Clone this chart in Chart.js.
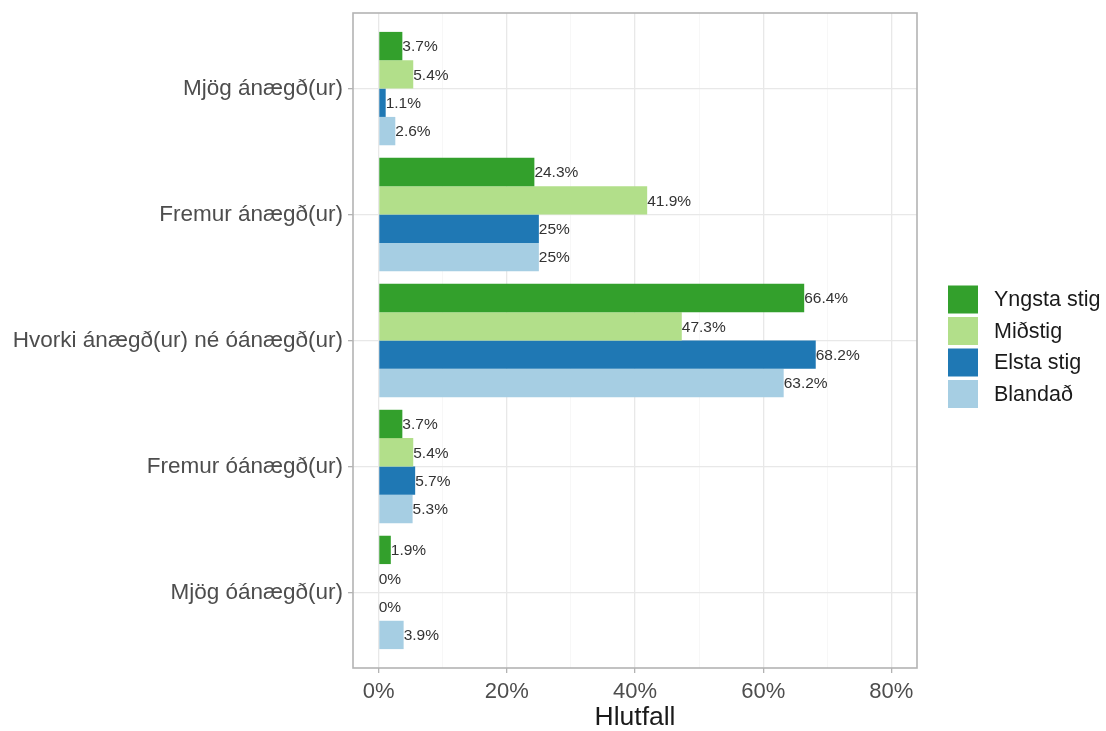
<!DOCTYPE html>
<html>
<head>
<meta charset="utf-8">
<script src="https://cdn.jsdelivr.net/npm/chart.js@4/dist/chart.umd.min.js"></script>
<style>
  html, body { margin: 0; padding: 0; background: #ffffff; }
  #wrap { width: 1106px; height: 731px; position: relative; }
</style>
</head>
<body>
<div id="wrap"><canvas id="barChart" width="1106" height="731"></canvas></div>
<script>
// Categories (top to bottom) and one array per group
const categories = [
    'Mjög ánægð(ur)',
    'Fremur ánægð(ur)',
    'Hvorki ánægð(ur) né óánægð(ur)',
    'Fremur óánægð(ur)',
    'Mjög óánægð(ur)'
];
const seriesNames = ['Yngsta stig', 'Miðstig', 'Elsta stig', 'Blandað'];
const yngsta = [3.7, 24.3, 66.4, 3.7, 1.9];
const midstig = [5.4, 41.9, 47.3, 5.4, 0];
const elsta = [1.1, 25, 68.2, 5.7, 0];
const blandad = [2.6, 25, 63.2, 5.3, 3.9];
const xTicks = [0, 10, 20, 30, 40, 50, 60, 70, 80];

const colors = [
    '#33a02c', // dark green
    '#b2df8a', // light green
    '#1f78b4', // dark blue
    '#a6cee3'  // light blue
];

const FONT = '"Liberation Sans", Arial, sans-serif';

// Turn a value array into {x, y} points on the category index
function toPoints(values) {
    return values.map((v, i) => ({ x: v, y: i }));
}

// Value labels at the end of each bar
const barLabels = {
    id: 'barLabels',
    afterDatasetsDraw(chart) {
        const ctx = chart.ctx;
        ctx.save();
        ctx.font = '15.5px ' + FONT;
        ctx.fillStyle = '#333333';
        ctx.textAlign = 'left';
        ctx.textBaseline = 'middle';
        chart.data.datasets.forEach((ds, di) => {
            const meta = chart.getDatasetMeta(di);
            meta.data.forEach((bar, i) => {
                ctx.fillText(ds.data[i].x + '%', bar.x, bar.y + 1);
            });
        });
        ctx.restore();
    }
};

// Grey border round the panel and the legend on the right
const panelAndLegend = {
    id: 'panelAndLegend',
    afterDraw(chart) {
        const ctx = chart.ctx;
        const a = chart.chartArea;
        ctx.save();
        ctx.strokeStyle = '#b3b3b3';
        ctx.lineWidth = 1.6;
        ctx.strokeRect(a.left, a.top, a.right - a.left, a.bottom - a.top);

        // legend
        const keyX = 948, keyW = 30, keyH = 28, step = 31.5;
        const top = 285.5;
        ctx.font = '21.5px ' + FONT;
        ctx.textBaseline = 'middle';
        ctx.textAlign = 'left';
        seriesNames.forEach((name, i) => {
            const y = top + i * step;
            ctx.fillStyle = colors[i];
            ctx.fillRect(keyX, y, keyW, keyH);
            ctx.fillStyle = '#1a1a1a';
            ctx.fillText(name, 994, y + keyH / 2 + 1);
        });
        ctx.restore();
    }
};

const ctx = document.getElementById('barChart').getContext('2d');
new Chart(ctx, {
    type: 'bar',
    data: {
        datasets: [
            { label: seriesNames[0], data: toPoints(yngsta), backgroundColor: colors[0] },
            { label: seriesNames[1], data: toPoints(midstig), backgroundColor: colors[1] },
            { label: seriesNames[2], data: toPoints(elsta), backgroundColor: colors[2] },
            { label: seriesNames[3], data: toPoints(blandad), backgroundColor: colors[3] }
        ]
    },
    options: {
        indexAxis: 'y',
        responsive: false,
        animation: false,
        categoryPercentage: 0.9,
        barPercentage: 1.0,
        layout: { padding: { top: 13, right: 189, left: 0, bottom: 0 } },
        plugins: {
            legend: { display: false },
            tooltip: { enabled: false }
        },
        scales: {
            x: {
                type: 'linear',
                min: -4,
                max: 84,
                afterBuildTicks: (scale) => { scale.ticks = xTicks.map(v => ({ value: v })); },
                afterFit: (scale) => { scale.height = 63; },
                border: { display: false },
                grid: {
                    color: (c) => (c.tick && c.tick.value % 20 !== 0) ? '#f3f3f3' : '#e8e8e8',
                    lineWidth: (c) => (c.tick && c.tick.value % 20 !== 0) ? 0.7 : 1.3,
                    tickColor: (c) => (c.tick && c.tick.value % 20 !== 0) ? 'rgba(0,0,0,0)' : '#b3b3b3',
                    tickLength: 5
                },
                ticks: {
                    autoSkip: false,
                    maxRotation: 0,
                    padding: 6,
                    color: '#4d4d4d',
                    font: { family: FONT, size: 22 },
                    callback: (v) => (v % 20 === 0 ? v + '%' : '')
                },
                title: {
                    display: true,
                    text: 'Hlutfall',
                    color: '#1a1a1a',
                    font: { family: FONT, size: 26.5, lineHeight: 1 },
                    padding: { top: 0, bottom: 0 }
                }
            },
            y: {
                type: 'linear',
                min: -0.6,
                max: 4.6,
                reverse: true,
                offset: false,
                afterBuildTicks: (scale) => { scale.ticks = categories.map((c, i) => ({ value: i })); },
                afterFit: (scale) => {
                    scale.width = 353;
                    scale.paddingTop = 0;
                    scale.paddingBottom = 0;
                },
                border: { display: false },
                grid: {
                    offset: false,
                    color: '#e8e8e8',
                    lineWidth: 1.3,
                    tickColor: '#b3b3b3',
                    tickLength: 5
                },
                ticks: {
                    autoSkip: false,
                    padding: 5,
                    color: '#4d4d4d',
                    font: { family: FONT, size: 22.5 },
                    callback: (v) => categories[v]
                }
            }
        }
    },
    plugins: [barLabels, panelAndLegend]
});
</script>
</body>
</html>
